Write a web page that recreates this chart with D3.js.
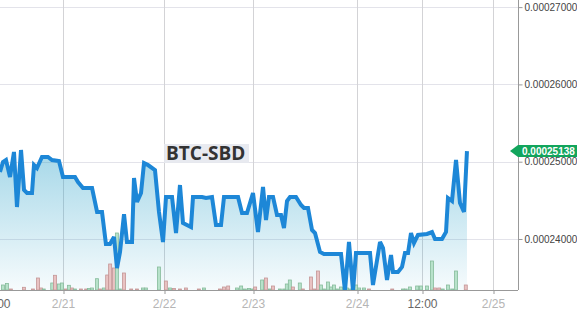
<!DOCTYPE html>
<html><head><meta charset="utf-8">
<script src="https://cdn.jsdelivr.net/npm/d3@7"></script>
<style>
html,body{margin:0;padding:0;background:#fff;overflow:hidden}
svg{display:block}
</style></head>
<body>
<div id="chart"></div>
<script>
// ---- data ----
// hours since 2018-02-20 00:00
const priceHours = [12.88,13.41,13.94,14.65,15.35,15.88,16.59,17.12,17.65,18.53,18.88,19.41,20.29,21.35,22.06,23.29,24.0,24.95,26.85,27.56,28.75,30.9,32.1,33.27,34.2,35.17,36.12,36.83,37.55,38.5,39.2,40.4,40.87,41.59,42.54,43.25,44.2,45.86,46.81,47.76,48.54,50.16,51.24,52.31,53.12,55.28,55.82,58.25,59.33,60.94,62.02,63.37,64.18,67.96,69.04,70.38,72.0,73.15,74.31,75.0,75.69,76.62,77.54,78.46,79.15,79.85,80.54,81.92,83.08,83.77,84.69,85.62,86.31,87.46,88.38,92.31,93.23,94.15,95.08,95.77,98.03,98.4,98.95,100.25,100.8,101.54,102.28,102.65,103.57,104.31,104.86,105.42,105.97,106.52,107.26,108.85,109.69,110.2,111.38,112.06,112.39,113.07,113.75,114.42,115.1,115.6];
// price in 1e-8 BTC
const prices = [24867,24996,25022,24802,25126,24414,25151,24634,24595,24595,24957,24918,25061,25061,25022,25009,24802,24802,24802,24737,24660,24660,24349,24349,23935,23935,24026,23624,23832,24320,23961,23961,24789,24479,24595,24983,24957,24892,24349,23961,24543,24543,24077,24698,24207,24155,24543,24543,24530,24543,24181,24181,24543,24543,24336,24336,24595,24090,24672,24246,24543,24543,24310,24310,24142,24491,24543,24543,24440,24401,24401,24116,24077,23832,23806,23806,23330,23961,23330,23819,23819,23819,23405,23961,23883,23469,23793,23573,23573,23638,23819,23819,24077,23948,24052,24065,24090,24000,24000,24090,24530,24491,25022,24466,24349,25138];

const volHours = [13.4,14.1,14.8,17.1,18.7,19.6,20.1,20.6,22.1,22.6,23.3,23.8,24.7,25.4,26.1,26.85,28.3,29.5,30.2,30.9,32.1,32.8,33.7,34.5,35.2,36.1,36.8,37.5,38.5,40.2,41.6,43.0,43.7,46.8,48.5,49.6,50.7,52.3,53.9,57.4,58.8,63.1,64.2,65.3,67.7,68.8,69.8,70.9,71.7,72.5,74.1,75.0,75.9,76.6,78.2,79.2,79.8,80.5,81.2,82.8,83.5,85.4,86.1,87.0,87.7,88.4,89.3,90.0,90.7,91.4,92.3,93.0,93.7,94.4,95.8,96.4,97.3,98.2,102.5,104.5,105.0,105.8,107.1,107.8,108.85,109.7,110.2,110.9,111.5,112.4,113.1,113.75,115.4];
const volumes = [5,6.5,1,2.7,1,12,2,1,7,14.7,6,7,1,4.7,2,1,1,1,1.5,2,11.3,1,2,15,26,22,57,1,17,1,1,2,2,23,9,2,1.5,1,2,1,2,1,3,4,2,4,1,1.5,1,3,10,12,1,4,1,1,6,10,3,7,1,13,1,19,5,1,8,3,5,1,3,2,2,1,5,2,2,1,1,1,1,3,4,4,4,29,2,2,1,5,1,19,5];
const volUp = "ggpppppggpggpgpgppgggpgpppggpppgggpgppppgpppgggggpgpgpggggpgppppgggggggggggggppgggggggppgggg".split("").map(c => c === "g");

const tickHours = [12, 24, 48, 72, 96, 108, 120];
const yTicks = [24000, 25000, 26000, 27000];
const lastPrice = 25138;
const pairName = "BTC-SBD";

// ---- setup ----
const W = 577, H = 316;
const plotRight = 518, plotBottom = 290;
const base = new Date(2018, 1, 20, 0, 0, 0).getTime();
const toDate = h => new Date(base + h * 3600e3);

const x = d3.scaleTime()
  .domain(tickHours.map(toDate))
  .range([-5, 63, 164, 253, 357, 422, 493]);
const y = d3.scaleLinear().domain([23340, 27092]).range([plotBottom, 0]);
const yv = d3.scaleLinear().domain([0, 60]).range([plotBottom, plotBottom - 60]);

const svg = d3.select("#chart").append("svg").attr("width", W).attr("height", H)
  .style("font-family", "Arial, 'Liberation Sans', sans-serif");

const defs = svg.append("defs");
const grad = defs.append("linearGradient").attr("id", "fillGrad")
  .attr("gradientUnits", "userSpaceOnUse")
  .attr("x1", 0).attr("x2", 0).attr("y1", y(25150)).attr("y2", plotBottom);
grad.append("stop").attr("offset", 0).attr("stop-color", "rgb(40,160,200)").attr("stop-opacity", 0.42);
grad.append("stop").attr("offset", 1).attr("stop-color", "rgb(40,160,200)").attr("stop-opacity", 0.04);
defs.append("clipPath").attr("id", "plotClip").append("rect")
  .attr("x", 0).attr("y", 0).attr("width", plotRight).attr("height", plotBottom);

// grid
const grid = svg.append("g");
grid.selectAll("line.h").data(yTicks).join("line")
  .attr("x1", 0).attr("x2", plotRight)
  .attr("y1", d => Math.round(y(d)) + 0.5).attr("y2", d => Math.round(y(d)) + 0.5)
  .attr("stroke", "#e3e3ea").attr("stroke-width", 1);
grid.selectAll("line.v").data(tickHours.map(toDate)).join("line")
  .attr("x1", d => Math.round(x(d)) + 0.5).attr("x2", d => Math.round(x(d)) + 0.5)
  .attr("y1", 0).attr("y2", plotBottom)
  .attr("stroke", "#d3d3d6").attr("stroke-width", 1);

const series = priceHours.map((h, i) => ({ t: toDate(h), v: prices[i] }));
const plot = svg.append("g").attr("clip-path", "url(#plotClip)");

// area
plot.append("path").datum(series)
  .attr("fill", "url(#fillGrad)")
  .attr("d", d3.area().x(d => x(d.t)).y0(plotBottom).y1(d => y(d.v)));

// volume bars
const vols = volHours.map((h, i) => ({ t: toDate(h), v: volumes[i], up: volUp[i] }));
plot.selectAll("rect.vol").data(vols).join("rect")
  .attr("x", d => x(d.t) - 1.5)
  .attr("width", 3)
  .attr("y", d => yv(d.v))
  .attr("height", d => plotBottom - yv(d.v))
  .attr("fill", d => d.up ? "#b7e2ca" : "#e9c2c2")
  .attr("stroke", d => d.up ? "#86bb9b" : "#c49696")
  .attr("stroke-width", 0.8);

// line
plot.append("path").datum(series)
  .attr("fill", "none")
  .attr("stroke", "#1d87d7")
  .attr("stroke-width", 4)
  .attr("stroke-linejoin", "miter")
  .attr("stroke-miterlimit", 3)
  .attr("d", d3.line().x(d => x(d.t)).y(d => y(d.v)));

// x axis
const xAxis = d3.axisBottom(x).tickValues(tickHours.map(toDate)).tickSize(4).tickPadding(5)
  .tickFormat(d => d.getHours() === 0 ? d3.timeFormat("%-m/%-d")(d) : d3.timeFormat("%H:%M")(d));
const gx = svg.append("g").attr("transform", `translate(0,${plotBottom})`).call(xAxis);
gx.select(".domain").attr("d", `M0,0.5H${plotRight}`).attr("stroke", "#999");
gx.selectAll(".tick line").attr("stroke", "#999").attr("transform", "translate(0.5,0)");
gx.selectAll(".tick text")
  .attr("font-size", 12)
  .attr("font-family", "Arial, 'Liberation Sans', sans-serif")
  .attr("fill", d => d.getHours() === 0 ? "#b5b5b5" : "#666");

// y axis
const yAxis = d3.axisRight(y).tickValues(yTicks).tickSize(4).tickPadding(2)
  .tickFormat(d => (d * 1e-8).toFixed(8));
const gy = svg.append("g").attr("transform", `translate(${plotRight + 0.5},0)`).call(yAxis);
gy.select(".domain").attr("d", `M0,0V${plotBottom}`).attr("stroke", "#999");
gy.selectAll(".tick line").attr("stroke", "#999");
gy.selectAll(".tick text")
  .attr("font-size", 10)
  .attr("font-family", "Arial, 'Liberation Sans', sans-serif")
  .attr("fill", "#444");

// title label
const lab = svg.append("g");
lab.append("rect").attr("x", 164).attr("y", 144).attr("width", 85).attr("height", 19)
  .attr("fill", "#e6e8ee").attr("opacity", 0.9);
lab.append("text").attr("x", 166).attr("y", 160)
  .attr("font-family", "'Open Sans', sans-serif").attr("font-weight", 700)
  .attr("font-size", 19).attr("fill", "#333").text(pairName);

// last price badge
const by = y(lastPrice);
const badge = svg.append("g");
badge.append("path")
  .attr("d", `M510,${by} L518,${by - 6} H577 V${by + 6} H518 Z`)
  .attr("fill", "#12a55c");
badge.append("text").attr("x", 522).attr("y", by + 3.6)
  .attr("font-size", 10).attr("font-weight", 700)
  .attr("font-family", "Arial, 'Liberation Sans', sans-serif")
  .attr("fill", "#fff").text((lastPrice * 1e-8).toFixed(8));
</script>
</body></html>
